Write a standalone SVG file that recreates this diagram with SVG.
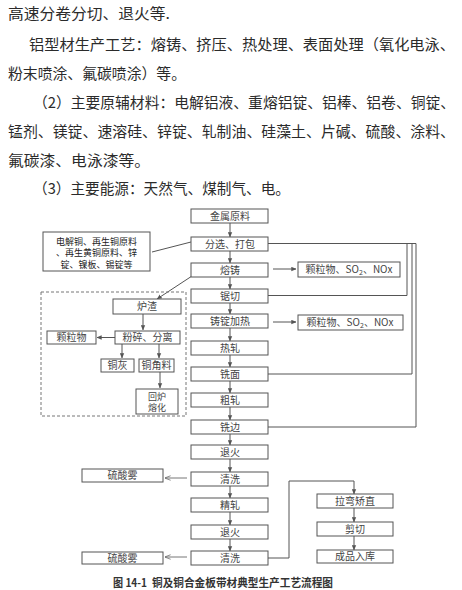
<svg xmlns="http://www.w3.org/2000/svg" width="462" height="590" viewBox="0 0 462 590">
<defs>
<style>
.para{font-family:"Noto Sans CJK SC","Noto Sans CJK JP",sans-serif;font-size:15px;fill:#2b2b2b}
.bx{fill:#fff;stroke:#555;stroke-width:1}
.t{font-family:"Noto Sans CJK SC","Noto Sans CJK JP",sans-serif;font-size:10px;fill:#444;text-anchor:middle}
.tm{font-family:"Noto Sans CJK SC","Noto Sans CJK JP",sans-serif;font-size:9px;fill:#222;text-anchor:middle}
.t2{font-family:"Noto Sans CJK SC","Noto Sans CJK JP",sans-serif;font-size:9px;fill:#444;text-anchor:middle}
.ln{fill:none;stroke:#555;stroke-width:1}
.ar{fill:none;stroke:#555;stroke-width:1;marker-end:url(#ah)}
.ao{fill:none;stroke:#666;stroke-width:0.9;marker-end:url(#ao)}
.cap{font-family:"Noto Sans CJK SC","Noto Sans CJK JP",sans-serif;font-size:11px;fill:#333;font-weight:bold}
</style>
<marker id="ah" viewBox="0 0 8 8" refX="7.5" refY="4" markerWidth="5" markerHeight="5" orient="auto" markerUnits="userSpaceOnUse"><path d="M0,0.5 L8,4 L0,7.5 z" fill="#555"/></marker>
<marker id="ao" viewBox="0 0 8 8" refX="7.5" refY="4" markerWidth="6" markerHeight="6" orient="auto" markerUnits="userSpaceOnUse"><path d="M0,1 L8,4 L0,7" fill="none" stroke="#666" stroke-width="1"/></marker>
</defs>
<rect width="462" height="590" fill="#fff"/>

<g id="paragraphs">
<text class="para" x="8" y="19" textLength="162" lengthAdjust="spacingAndGlyphs">高速分卷分切、退火等.</text>
<text class="para" x="29" y="50" textLength="426" lengthAdjust="spacingAndGlyphs">铝型材生产工艺：熔铸、挤压、热处理、表面处理（氧化电泳、</text>
<text class="para" x="8" y="79" textLength="178" lengthAdjust="spacingAndGlyphs">粉末喷涂、氟碳喷涂）等。</text>
<text class="para" x="33" y="108" textLength="422" lengthAdjust="spacingAndGlyphs">（2）主要原辅材料：电解铝液、重熔铝锭、铝棒、铝卷、铜锭、</text>
<text class="para" x="8" y="137" textLength="447" lengthAdjust="spacingAndGlyphs">锰剂、镁锭、速溶硅、锌锭、轧制油、硅藻土、片碱、硫酸、涂料、</text>
<text class="para" x="8" y="166" textLength="142" lengthAdjust="spacingAndGlyphs">氟碳漆、电泳漆等。</text>
<text class="para" x="33" y="194" textLength="257" lengthAdjust="spacingAndGlyphs">（3）主要能源：天然气、煤制气、电。</text>
</g>

<g id="connectors">
<path class="ar" d="M230,223 V237"/>
<path class="ar" d="M230,251 V263"/>
<path class="ar" d="M230,277 V289"/>
<path class="ar" d="M230,303 V314"/>
<path class="ar" d="M230,328 V341"/>
<path class="ar" d="M230,355 V367"/>
<path class="ar" d="M230,381 V393"/>
<path class="ar" d="M230,407 V420"/>
<path class="ar" d="M230,434 V445"/>
<path class="ar" d="M230,459 V472"/>
<path class="ar" d="M230,486 V498"/>
<path class="ar" d="M230,512 V525"/>
<path class="ar" d="M230,539 V551"/>
<path class="ar" d="M273,269 H296"/>
<path class="ar" d="M273,322 H296"/>
<path class="ln" d="M268,243.5 H416"/>
<path class="ln" d="M268,295.5 H407 V243.5"/>
<path class="ln" d="M268,374 H412 V243.5"/>
<path class="ln" d="M268,427 H416 V243.5"/>
<path class="ln" d="M152,252 L191,242"/>
<path class="ar" d="M192,276 L157,299"/>
<path class="ar" d="M143,314 V330"/>
<path class="ar" d="M115,337.5 H97"/>
<path class="ar" d="M122,344 V358"/>
<path class="ar" d="M159,344 V358"/>
<path class="ar" d="M160,372 V388"/>
<path class="ao" d="M187,478 H165"/>
<path class="ao" d="M187,557 H165"/>
<path class="ln" d="M268,558 H289 V481 H354"/>
<path class="ar" d="M354,481 V494"/>
<path class="ar" d="M354,508 V522"/>
<path class="ar" d="M354,536 V550"/>
</g>

<g id="n_jinshuyuanliao"><rect class="bx" x="191" y="209" width="77" height="14"/><text class="t" x="230" y="219.5">金属原料</text></g>
<g id="n_fenxuan"><rect class="bx" x="191" y="237" width="77" height="14"/><text class="t" x="230" y="247.5">分选、打包</text></g>
<g id="n_rongzhu"><rect class="bx" x="191" y="263" width="77" height="14"/><text class="t" x="230" y="273.5">熔铸</text></g>
<g id="n_juqie"><rect class="bx" x="191" y="289" width="77" height="14"/><text class="t" x="230" y="299.5">锯切</text></g>
<g id="n_zhudingjiare"><rect class="bx" x="191" y="314" width="77" height="14"/><text class="t" x="230" y="324.5">铸锭加热</text></g>
<g id="n_rezha"><rect class="bx" x="191" y="341" width="77" height="14"/><text class="t" x="230" y="351.5">热轧</text></g>
<g id="n_ximian"><rect class="bx" x="191" y="367" width="77" height="14"/><text class="t" x="230" y="377.5">铣面</text></g>
<g id="n_cuzha"><rect class="bx" x="191" y="393" width="77" height="14"/><text class="t" x="230" y="403.5">粗轧</text></g>
<g id="n_xibian"><rect class="bx" x="191" y="420" width="77" height="14"/><text class="t" x="230" y="430.5">铣边</text></g>
<g id="n_tuihuo1"><rect class="bx" x="191" y="445" width="77" height="14"/><text class="t" x="230" y="455.5">退火</text></g>
<g id="n_qingxi1"><rect class="bx" x="191" y="472" width="77" height="14"/><text class="t" x="230" y="482.5">清洗</text></g>
<g id="n_jingzha"><rect class="bx" x="191" y="498" width="77" height="14"/><text class="t" x="230" y="508.5">精轧</text></g>
<g id="n_tuihuo2"><rect class="bx" x="191" y="525" width="77" height="14"/><text class="t" x="230" y="535.5">退火</text></g>
<g id="n_qingxi2"><rect class="bx" x="191" y="551" width="77" height="14"/><text class="t" x="230" y="561.5">清洗</text></g>

<g id="n_emis1"><rect class="bx" x="298" y="262" width="102" height="15"/><text class="t" x="349" y="273">颗粒物、SO<tspan font-size="7" dy="2">2</tspan><tspan dy="-2">、NOx</tspan></text></g>
<g id="n_emis2"><rect class="bx" x="298" y="315" width="105" height="15"/><text class="t" x="350" y="326">颗粒物、SO<tspan font-size="7" dy="2">2</tspan><tspan dy="-2">、NOx</tspan></text></g>

<g id="n_materials"><rect class="bx" x="43" y="232" width="107" height="39"/>
<text class="tm" x="96.5" y="244.5">电解铜、再生铜原料</text>
<text class="tm" x="96.5" y="256">、再生黄铜原料、锌</text>
<text class="tm" x="96.5" y="267.5">锭、镍板、锡锭等</text></g>

<g id="g_dashed"><rect x="41" y="292" width="145" height="124" fill="none" stroke="#777" stroke-width="1" stroke-dasharray="3,2"/></g>
<g id="n_luzha"><rect class="bx" x="113" y="299" width="68" height="15"/><text class="t" x="147" y="310">炉渣</text></g>
<g id="n_fensui"><rect class="bx" x="115" y="331" width="65" height="13"/><text class="t" x="147.5" y="341">粉碎、分离</text></g>
<g id="n_keliwu"><rect class="bx" x="47" y="331" width="49" height="13"/><text class="t" x="71.5" y="341">颗粒物</text></g>
<g id="n_tonghui"><rect class="bx" x="101" y="359" width="33" height="13"/><text class="t" x="117.5" y="369">铜灰</text></g>
<g id="n_tongjiaoliao"><rect class="bx" x="139" y="359" width="35" height="13"/><text class="t" x="156.5" y="369">铜角料</text></g>
<g id="n_huilu"><rect class="bx" x="136" y="389" width="42" height="25"/><text class="t2" x="157" y="399.5">回炉<tspan x="157" dy="11.5">熔化</tspan></text></g>

<g id="n_liusuanwu1"><rect class="bx" x="82" y="469" width="81" height="13"/><text class="t" x="122.5" y="479">硫酸雾</text></g>
<g id="n_liusuanwu2"><rect class="bx" x="82" y="552" width="81" height="12"/><text class="t" x="122.5" y="561.5">硫酸雾</text></g>

<g id="n_lawan"><rect class="bx" x="317" y="494" width="76" height="14"/><text class="t" x="355" y="504.5">拉弯矫直</text></g>
<g id="n_jianqie"><rect class="bx" x="317" y="522" width="76" height="14"/><text class="t" x="355" y="532.5">剪切</text></g>
<g id="n_chengpin"><rect class="bx" x="317" y="550" width="76" height="13"/><text class="t" x="355" y="560">成品入库</text></g>

<g id="caption"><text class="cap" x="113" y="587" textLength="34" lengthAdjust="spacingAndGlyphs">图 14-1</text><text class="cap" x="152" y="587" textLength="181" lengthAdjust="spacingAndGlyphs">铜及铜合金板带材典型生产工艺流程图</text></g>
</svg>
